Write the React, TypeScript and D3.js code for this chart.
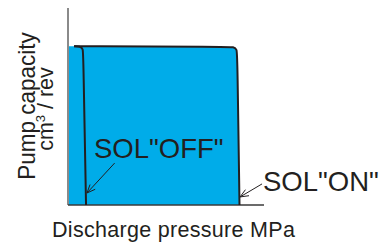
import React from "react";
import * as d3 from "d3";

// discharge pressure (MPa, arbitrary 0-10) vs pump capacity (arbitrary 0-100)
const onPressure = [0, 0.31, 8.1, 8.45, 8.62, 8.64, 8.75];
const onCapacity = [80.6, 80.6, 80.3, 80.2, 79.2, 75, 0];
const offPressure = [0.31, 0.62, 0.77, 0.78, 0.92];
const offCapacity = [80.6, 80.5, 79.5, 75, 0];

const labels = {
  x: "Discharge pressure MPa",
  y1: "Pump capacity",
  off: 'SOL"OFF"',
  on: 'SOL"ON"',
};

// arrows: [fromP, fromC, toP, toC]
const offArrow = [2.38, 21.3, 0.97, 6.1];
const onArrow = [9.9, 10.7, 8.78, 4.1];

const W = 384;
const H = 248;
const ink = "#231f20";
const font = "'Liberation Sans', Arial, Helvetica, sans-serif";

export default function App() {
  const x = d3.scaleLinear().domain([0, 10]).range([68, 264]);
  const y = d3.scaleLinear().domain([0, 100]).range([205, 8]);

  const onPts = onPressure.map((p, i) => [p, onCapacity[i]] as [number, number]);
  const offPts = offPressure.map((p, i) => [p, offCapacity[i]] as [number, number]);

  const area = d3
    .area<[number, number]>()
    .x((d) => x(d[0]))
    .y0(y(0))
    .y1((d) => y(d[1]))
    .curve(d3.curveBasis);

  const line = d3
    .line<[number, number]>()
    .x((d) => x(d[0]))
    .y((d) => y(d[1]))
    .curve(d3.curveBasis);

  const arrowPath = (a: number[]) => {
    const x1 = x(a[0]), y1 = y(a[1]), x2 = x(a[2]), y2 = y(a[3]);
    const ang = Math.atan2(y2 - y1, x2 - x1);
    const len = 9, spread = 0.4;
    const h1 = [x2 - len * Math.cos(ang - spread), y2 - len * Math.sin(ang - spread)];
    const h2 = [x2 - len * Math.cos(ang + spread), y2 - len * Math.sin(ang + spread)];
    return `M${x1},${y1}L${x2},${y2}M${h1[0]},${h1[1]}L${x2},${y2}L${h2[0]},${h2[1]}`;
  };

  return (
    <svg
      width={W}
      height={H}
      style={{ position: "absolute", left: 0, top: 0, background: "#fff" }}
      fontFamily={font}
    >
      {/* filled region */}
      <path d={area(onPts) || ""} fill="#00ace9" />

      {/* axes */}
      <line x1={x(0)} x2={x(0)} y1={y(0)} y2={y(100)} stroke="#8a8a8a" strokeWidth={2} />
      <line x1={x(0)} x2={x(10)} y1={y(0)} y2={y(0)} stroke="#3a3a3a" strokeWidth={1.5} />

      {/* curves */}
      <path d={line(onPts.slice(1)) || ""} fill="none" stroke={ink} strokeWidth={2} />
      <path d={line(offPts) || ""} fill="none" stroke={ink} strokeWidth={2} />

      {/* annotations */}
      <path d={arrowPath(offArrow)} fill="none" stroke={ink} strokeWidth={1} />
      <path d={arrowPath(onArrow)} fill="none" stroke={ink} strokeWidth={1} />
      <text x={94} y={158} fontSize={27.5} fill={ink}>{labels.off}</text>
      <text x={263} y={191} fontSize={27.5} fill={ink}>{labels.on}</text>

      {/* axis titles */}
      <text x={52} y={237} fontSize={21.5} letterSpacing={0.3} fill={ink}>{labels.x}</text>
      <text
        transform="translate(34.5,106) scale(1.08,1) rotate(-90)"
        textAnchor="middle"
        fontSize={22.5}
        fill={ink}
      >
        {labels.y1}
      </text>
      <text
        transform="translate(53,109) scale(1.05,1) rotate(-90)"
        textAnchor="middle"
        fontSize={21.5}
        fill={ink}
      >
        cm<tspan fontSize={13} dy={-8}>3</tspan>
        <tspan dy={8}> / rev</tspan>
      </text>
    </svg>
  );
}
